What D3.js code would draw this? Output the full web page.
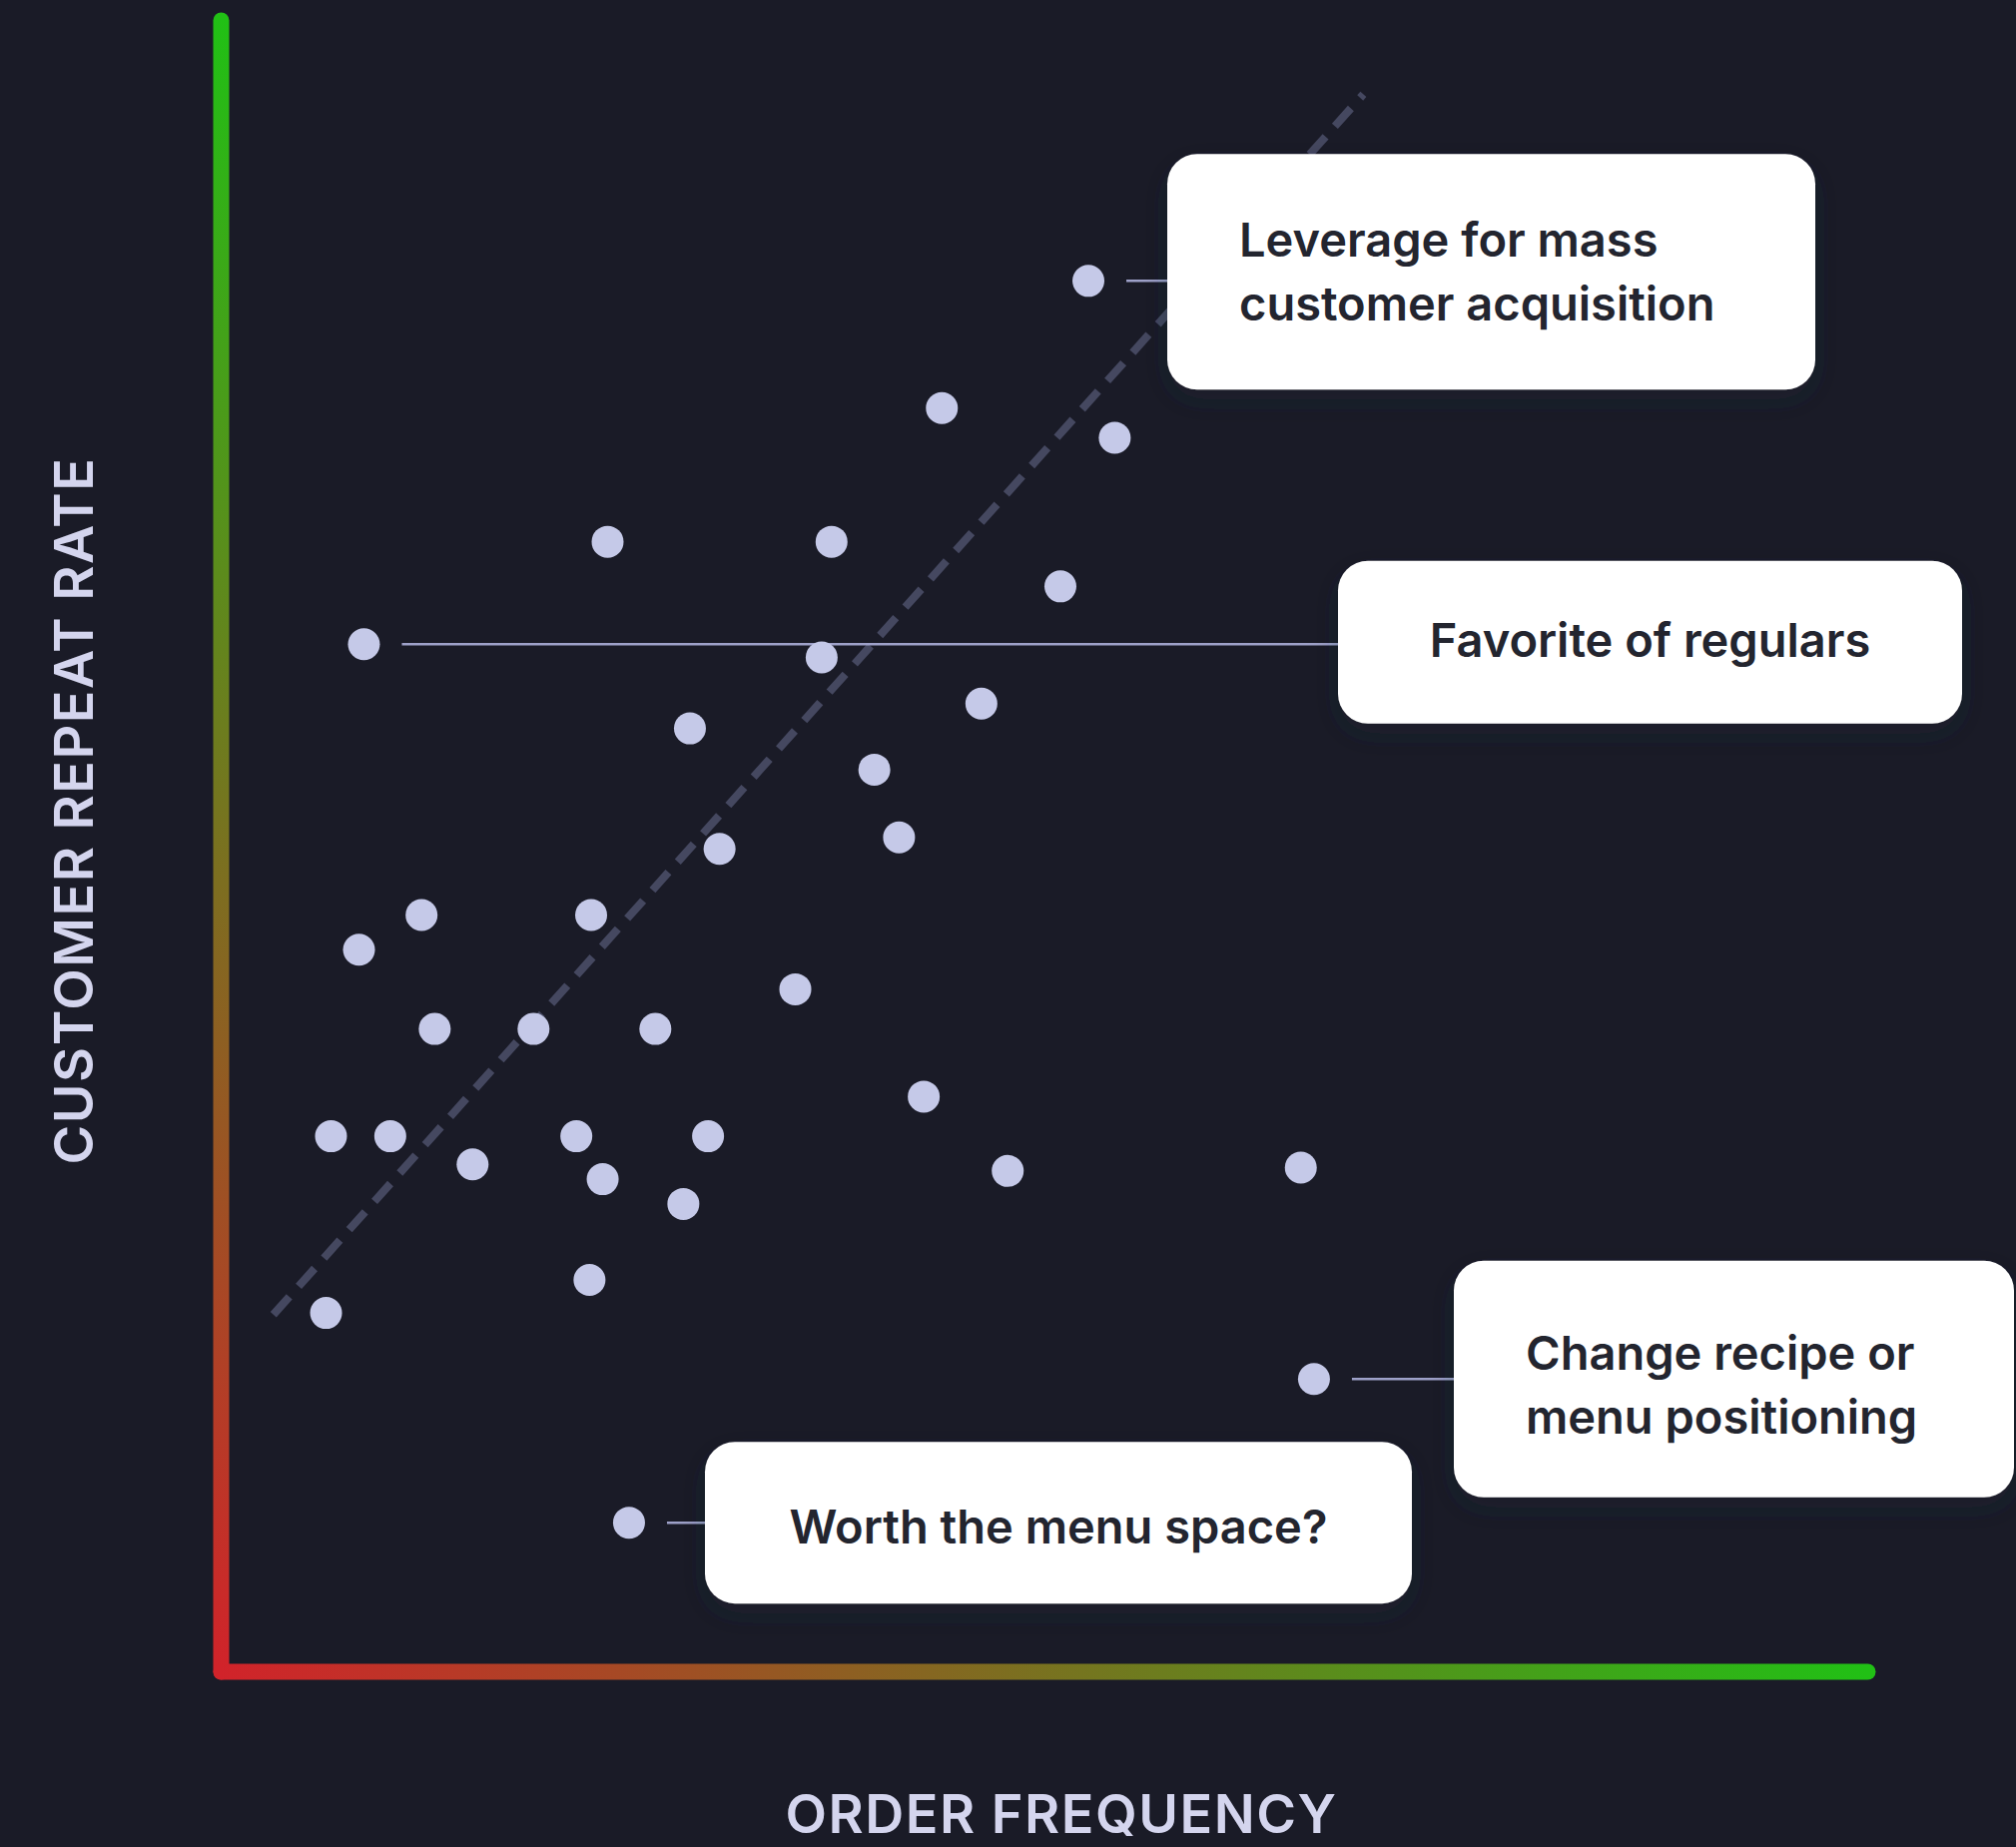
<!DOCTYPE html>
<html>
<head>
<meta charset="utf-8">
<script src="https://cdn.jsdelivr.net/npm/d3@7"></script>
<style>
  html, body { margin: 0; padding: 0; background: #1a1b27; }
  svg { display: block; }
</style>
</head>
<body>
<div id="plot"></div>
<script>
// menu items: order frequency (x) vs customer repeat rate (y), 0-100
const orderFreq = [52.7, 43.8, 54.3, 23.5, 37.1, 51.0, 8.7, 36.5, 46.2, 28.5,
  39.7, 41.2, 30.3, 12.2, 22.5, 8.4, 34.9, 13.0, 19.0, 26.4,
  42.7, 6.7, 10.3, 21.6, 29.6, 15.3, 23.2, 47.8, 65.6, 28.1,
  22.4, 6.4, 66.4, 24.8];
const repeatRate = [84.2, 76.5, 74.7, 68.4, 68.4, 65.7, 62.2, 61.4, 58.6, 57.1,
  54.6, 50.5, 49.8, 45.8, 45.8, 43.7, 41.3, 38.9, 38.9, 38.9,
  34.8, 32.4, 32.4, 32.4, 32.4, 30.7, 29.8, 30.3, 30.5, 28.3,
  23.7, 21.7, 17.7, 9.0];

// trend line end points
const trendX = [3.2, 69.4];
const trendY = [21.6, 95.5];

// callouts
const noteText = [
  ["Leverage for mass", "customer acquisition"],
  ["Favorite of regulars"],
  ["Change recipe or", "menu positioning"],
  ["Worth the menu space?"]
];
const notePoint = [0, 6, 32, 33];

const xLabel = "ORDER FREQUENCY";
const yLabel = "CUSTOMER REPEAT RATE";

const W = 2019, H = 1850;
const svg = d3.select("#plot").append("svg")
  .attr("width", W)
  .attr("height", H)
  .style("font-family", "Inter, 'Noto Sans', sans-serif");

svg.append("rect").attr("width", W).attr("height", H).attr("fill", "#1a1b27");

const x = d3.scaleLinear().domain([0, 100]).range([221, 1870]);
const y = d3.scaleLinear().domain([0, 100]).range([1674, 20]);

const defs = svg.append("defs");
const red = "#d1232a", green = "#21c015";

defs.append("linearGradient")
  .attr("id", "gradY")
  .attr("gradientUnits", "userSpaceOnUse")
  .attr("x1", 0).attr("x2", 0)
  .attr("y1", y(0)).attr("y2", y(100))
  .selectAll("stop")
  .data([[0, red], [1, green]])
  .join("stop")
  .attr("offset", d => d[0])
  .attr("stop-color", d => d[1]);

defs.append("linearGradient")
  .attr("id", "gradX")
  .attr("gradientUnits", "userSpaceOnUse")
  .attr("x1", x(0)).attr("x2", x(100))
  .attr("y1", 0).attr("y2", 0)
  .selectAll("stop")
  .data([[0, red], [1, green]])
  .join("stop")
  .attr("offset", d => d[0])
  .attr("stop-color", d => d[1]);

const shadow = defs.append("filter")
  .attr("id", "shadow")
  .attr("x", "-20%").attr("y", "-30%")
  .attr("width", "140%").attr("height", "160%");
shadow.append("feDropShadow")
  .attr("dx", 0).attr("dy", 10)
  .attr("stdDeviation", 14)
  .attr("flood-color", "#23253a")
  .attr("flood-opacity", 0.3);

// axes: only the domain line, drawn thick with a gradient
const yAxis = svg.append("g")
  .attr("transform", "translate(" + x(0) + ",0)")
  .call(d3.axisLeft(y).ticks(0).tickSizeOuter(0));
yAxis.select(".domain")
  .attr("stroke", "url(#gradY)")
  .attr("stroke-width", 16)
  .attr("stroke-linecap", "round");

const xAxis = svg.append("g")
  .attr("transform", "translate(0," + y(0) + ")")
  .call(d3.axisBottom(x).ticks(0).tickSizeOuter(0));
xAxis.select(".domain")
  .attr("stroke", "url(#gradX)")
  .attr("stroke-width", 16)
  .attr("stroke-linecap", "round");

// trend line
svg.append("path")
  .datum(trendX.map((d, i) => [d, trendY[i]]))
  .attr("d", d3.line().x(d => x(d[0])).y(d => y(d[1])))
  .attr("fill", "none")
  .attr("stroke", "#454860")
  .attr("stroke-width", 8)
  .attr("stroke-dasharray", "24 14");

// callout boxes
const boxes = [
  { x: 1169, w: 649, h: 236, dy: -9, ty: 0 },
  { x: 1340, w: 625, h: 163, dy: -2, ty: -2 },
  { x: 1456, w: 561, h: 237, dy: 0, ty: 6 },
  { x: 706, w: 708, h: 162, dy: 0, ty: 4 }
];
const lineH = 64;

noteText.forEach((lines, i) => {
  const p = notePoint[i];
  const px = x(orderFreq[p]), py = y(repeatRate[p]);
  const b = boxes[i];
  const cy = py + b.dy;

  svg.append("line")
    .attr("x1", px + 38).attr("x2", b.x + 4)
    .attr("y1", py).attr("y2", py)
    .attr("stroke", "#9ea1c9")
    .attr("stroke-width", 2.5);

  const g = svg.append("g");
  g.append("rect")
    .attr("x", b.x).attr("y", cy - b.h / 2)
    .attr("width", b.w).attr("height", b.h)
    .attr("rx", 30)
    .attr("fill", "#ffffff")
    .attr("filter", "url(#shadow)");

  const multi = lines.length > 1;
  g.selectAll("text")
    .data(lines)
    .join("text")
    .attr("x", multi ? b.x + 72 : b.x + b.w / 2)
    .attr("y", (d, j) => cy + b.ty + (j - (lines.length - 1) / 2) * lineH)
    .attr("dy", "0.36em")
    .attr("text-anchor", multi ? "start" : "middle")
    .attr("fill", "#23252f")
    .attr("font-size", 47)
    .attr("font-weight", 600)
    .text(d => d);
});

// points
svg.append("g")
  .selectAll("circle")
  .data(orderFreq)
  .join("circle")
  .attr("cx", d => x(d))
  .attr("cy", (d, i) => y(repeatRate[i]))
  .attr("r", 16)
  .attr("fill", "#c5c9e8");

// axis titles
svg.append("text")
  .attr("x", 1063).attr("y", 1836)
  .attr("text-anchor", "middle")
  .attr("fill", "#d4d5ee")
  .attr("font-size", 54)
  .attr("font-weight", 600)
  .attr("letter-spacing", 1.5)
  .text(xLabel);

svg.append("text")
  .attr("transform", "translate(93,812) rotate(-90)")
  .attr("text-anchor", "middle")
  .attr("fill", "#d4d5ee")
  .attr("font-size", 54)
  .attr("font-weight", 600)
  .attr("letter-spacing", 1.5)
  .text(yLabel);
</script>
</body>
</html>
